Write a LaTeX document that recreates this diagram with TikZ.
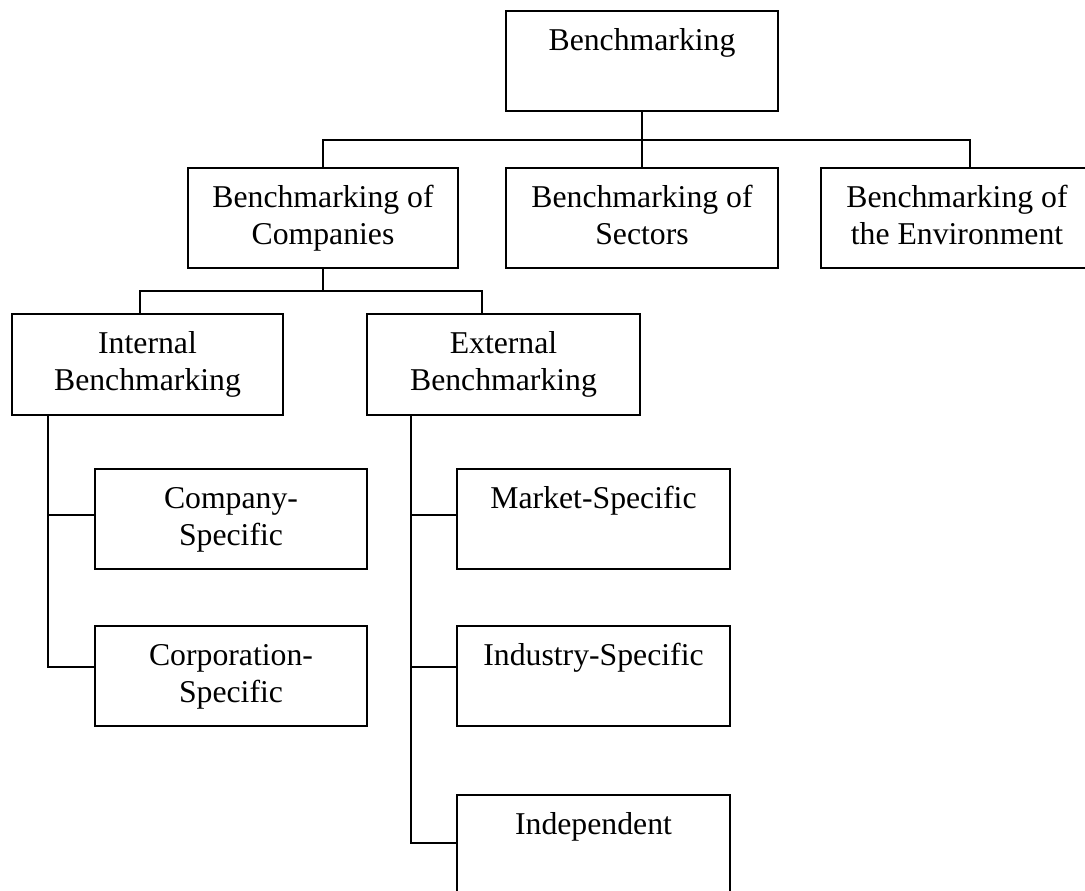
\documentclass[tikz,border=0pt]{standalone}
\usepackage{fontspec}
\setmainfont{Liberation Serif}
\begin{document}
\begin{tikzpicture}[x=0.75pt,y=-0.75pt,
  line width=1.4pt,
  box/.style={draw, line width=1.4pt, minimum width=#1, minimum height=75pt, inner sep=0pt},
  box/.default=204pt,
  % anchor=base sits on the last line, so two-line labels go one line lower
  lbl/.style={anchor=base, align=center, inner sep=0pt,
    font=\fontsize{23.8pt}{27.75pt}\selectfont},
  lblone/.style={lbl, yshift=-30pt},
  lbltwo/.style={lbl, yshift=-57.75pt}]
\useasboundingbox (0,0) rectangle (1085,890);

% boxes
\node[box] (bm)   at (642,61)    {};
\node[box=202.5pt] (comp) at (323,218) {};
\node[box] (sect) at (642,218)   {};
\node[box] (env)  at (957,218)   {};
\node[box=203.25pt, minimum height=75.75pt] (int) at (147.5,364.5) {};
\node[box=204.75pt, minimum height=75.75pt] (ext) at (503.5,364.5) {};
\node[box] (cs)   at (231,519)   {};
\node[box] (cps)  at (231,676)   {};
\node[box=204.75pt] (ms)  at (593.5,519) {};
\node[box=204.75pt] (is)  at (593.5,676) {};
\node[box=204.75pt] (ind) at (593.5,845) {};

% labels, first baseline 40px below the top edge
\node[lblone] (bmT)   at (bm.north)   {Benchmarking};
\node[lbltwo] (compT) at (comp.north) {Benchmarking of\\Companies};
\node[lbltwo] (sectT) at (sect.north) {Benchmarking of\\Sectors};
\node[lbltwo] (envT)  at (env.north)  {Benchmarking of\\the Environment};
\node[lbltwo] (intT)  at (int.north)  {Internal\\Benchmarking};
\node[lbltwo] (extT)  at (ext.north)  {External\\Benchmarking};
\node[lbltwo] (csT)   at (cs.north)   {Company-\\Specific};
\node[lbltwo] (cpsT)  at (cps.north)  {Corporation-\\Specific};
\node[lblone] (msT)   at (ms.north)   {Market-Specific};
\node[lblone] (isT)   at (is.north)   {Industry-Specific};
\node[lblone] (indT)  at (ind.north)  {Independent};

% bus lines and tee points
\coordinate (busA) at (640,140);
\coordinate (envIn) at (970,168);
\coordinate (busB) at (323,291);
\coordinate (intIn) at (140,314);
\coordinate (extIn) at (482,314);
\coordinate (spineL) at (48,415);
\coordinate (spineR) at (411,415);
\coordinate (tL1) at (48,515);
\coordinate (tL2) at (48,667);
\coordinate (tR1) at (411,515);
\coordinate (tR2) at (411,667);
\coordinate (tR3) at (411,843);

% top level
\draw (bm.south) -- (sect.north);
\draw (comp.north) |- (busA) -| (envIn);

% companies
\draw (comp.south) -- (busB);
\draw (intIn) |- (busB) -| (extIn);

% internal branch
\draw (spineL) -- (tL2) -- (tL2 -| cps.west);
\draw (tL1) -- (tL1 -| cs.west);

% external branch
\draw (spineR) -- (tR3) -- (tR3 -| ind.west);
\draw (tR1) -- (tR1 -| ms.west);
\draw (tR2) -- (tR2 -| is.west);
\end{tikzpicture}
\end{document}
